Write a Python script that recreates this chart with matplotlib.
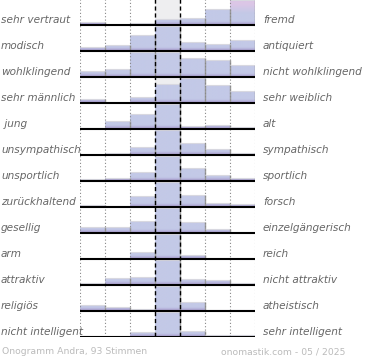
import numpy as np
import matplotlib
matplotlib.use("Agg")
import matplotlib.pyplot as plt
from matplotlib.patches import Rectangle

left_labels = ["sehr vertraut", "modisch", "wohlklingend", "sehr männlich", " jung",
               "unsympathisch", "unsportlich", "zurückhaltend", "gesellig", "arm",
               "attraktiv", "religiös", "nicht intelligent"]
right_labels = ["fremd", "antiquiert", "nicht wohlklingend", "sehr weiblich", "alt",
                "sympathisch", "sportlich", "forsch", "einzelgängerisch", "reich",
                "nicht attraktiv", "atheistisch", "sehr intelligent"]
# relative bar heights per row (7 bins, max = 1)
values = [
    [0.11, 0.00, 0.07, 0.24, 0.28, 0.63, 1.00],
    [0.15, 0.23, 0.63, 1.00, 0.35, 0.27, 0.45],
    [0.25, 0.32, 1.00, 1.00, 0.76, 0.68, 0.47],
    [0.17, 0.00, 0.25, 0.77, 1.00, 0.72, 0.49],
    [0.04, 0.33, 0.61, 1.00, 0.13, 0.17, 0.07],
    [0.00, 0.07, 0.31, 1.00, 0.47, 0.23, 0.07],
    [0.07, 0.13, 0.36, 1.00, 0.52, 0.25, 0.13],
    [0.08, 0.04, 0.43, 1.00, 0.49, 0.17, 0.12],
    [0.25, 0.23, 0.50, 1.00, 0.43, 0.16, 0.00],
    [0.00, 0.03, 0.27, 1.00, 0.15, 0.00, 0.00],
    [0.09, 0.29, 0.33, 1.00, 0.25, 0.21, 0.07],
    [0.23, 0.17, 0.09, 1.00, 0.37, 0.03, 0.03],
    [0.00, 0.00, 0.20, 1.00, 0.24, 0.08, 0.08],
]
footer_left = "Onogramm Andra, 93 Stimmen"
footer_right = "onomastik.com - 05 / 2025"

W, H = 370, 360
fig = plt.figure(figsize=(W / 100, H / 100), dpi=100)
fig.patch.set_facecolor("white")
ax = fig.add_axes([80 / W, 23 / H, 175 / W, 338 / H])
nrows = len(values)
nb = 7
ax.set_xlim(0, nb)
ax.set_ylim(nrows, 0)
ax.axis("off")

SCALE = 0.95  # bar max relative to row height

# middle column grey background
ax.add_patch(Rectangle((3, 0), 1, nrows, facecolor="#eeeef0", edgecolor="none", zorder=0))

body = np.array([0xc3, 0xc9, 0xe7]) / 255
bottom = np.array([0xa6, 0x98, 0xcc]) / 255
pink = np.array([0xdc, 0xc6, 0xe6]) / 255


def bar_color(t, col):
    # t: absolute height fraction within the row (0 at baseline)
    c = body.copy()
    if t < 0.14:
        a = 1 - t / 0.14
        c = body * (1 - a) + bottom * a
    if col == nb - 1 and t > 0.45:
        a = min(1.0, (t - 0.45) / 0.35)
        c = c * (1 - a) + pink * a
    return c


for i, row in enumerate(values):
    base = i + 1
    for j, v in enumerate(row):
        if v <= 0:
            continue
        h = v * SCALE
        n = 60
        ts = np.linspace(h, 0, n)
        img = np.array([[bar_color(t, j)] for t in ts])
        rect = Rectangle((j, base - h), 1, h, facecolor="none", edgecolor="none")
        ax.add_patch(rect)
        im = ax.imshow(img, extent=[j, j + 1, base, base - h], aspect="auto",
                       interpolation="bilinear", zorder=1)
        im.set_clip_path(rect)
        # top edge (light) and right edge (grey shadow)
        ax.plot([j, j + 1], [base - h, base - h], color="#d8d8e0", lw=0.8, zorder=2,
                solid_capstyle="butt")
        ax.plot([j + 1, j + 1], [base - h, base], color="#9a9a9a", lw=1.0, zorder=2,
                solid_capstyle="butt")
    ax.plot([0, nb], [base, base], color="black", lw=1.5, zorder=4, solid_capstyle="butt")

# grid lines
for x in [0, 1, 2, 5, 6, 7]:
    ax.plot([x, x], [0, nrows], color="#888888", lw=0.8, linestyle=(0, (1, 2)), zorder=3)
for x in [3, 4]:
    ax.plot([x, x], [0, nrows], color="black", lw=1.0, linestyle=(0, (3, 2)), zorder=3)

px = nb / 175.0  # data units per pixel in x
py = nrows / 338.0
for i in range(nrows):
    yb = i + 1 - 5 * py
    ax.text(-80 * px + 1 * px, yb, left_labels[i], ha="left", va="center",
            fontsize=7.6, style="italic", color="#666666", clip_on=False)
    ax.text(nb + 8 * px, yb, right_labels[i], ha="left", va="center",
            fontsize=7.6, style="italic", color="#666666", clip_on=False)

fig.text(2 / W, 1 - 352 / H, footer_left, ha="left", va="center", fontsize=6.7,
         color="#bbbbbb")
fig.text(345 / W, 1 - 352 / H, footer_right, ha="right", va="center", fontsize=6.7,
         color="#bbbbbb")

fig.savefig("out.png", dpi=100, facecolor="white")
